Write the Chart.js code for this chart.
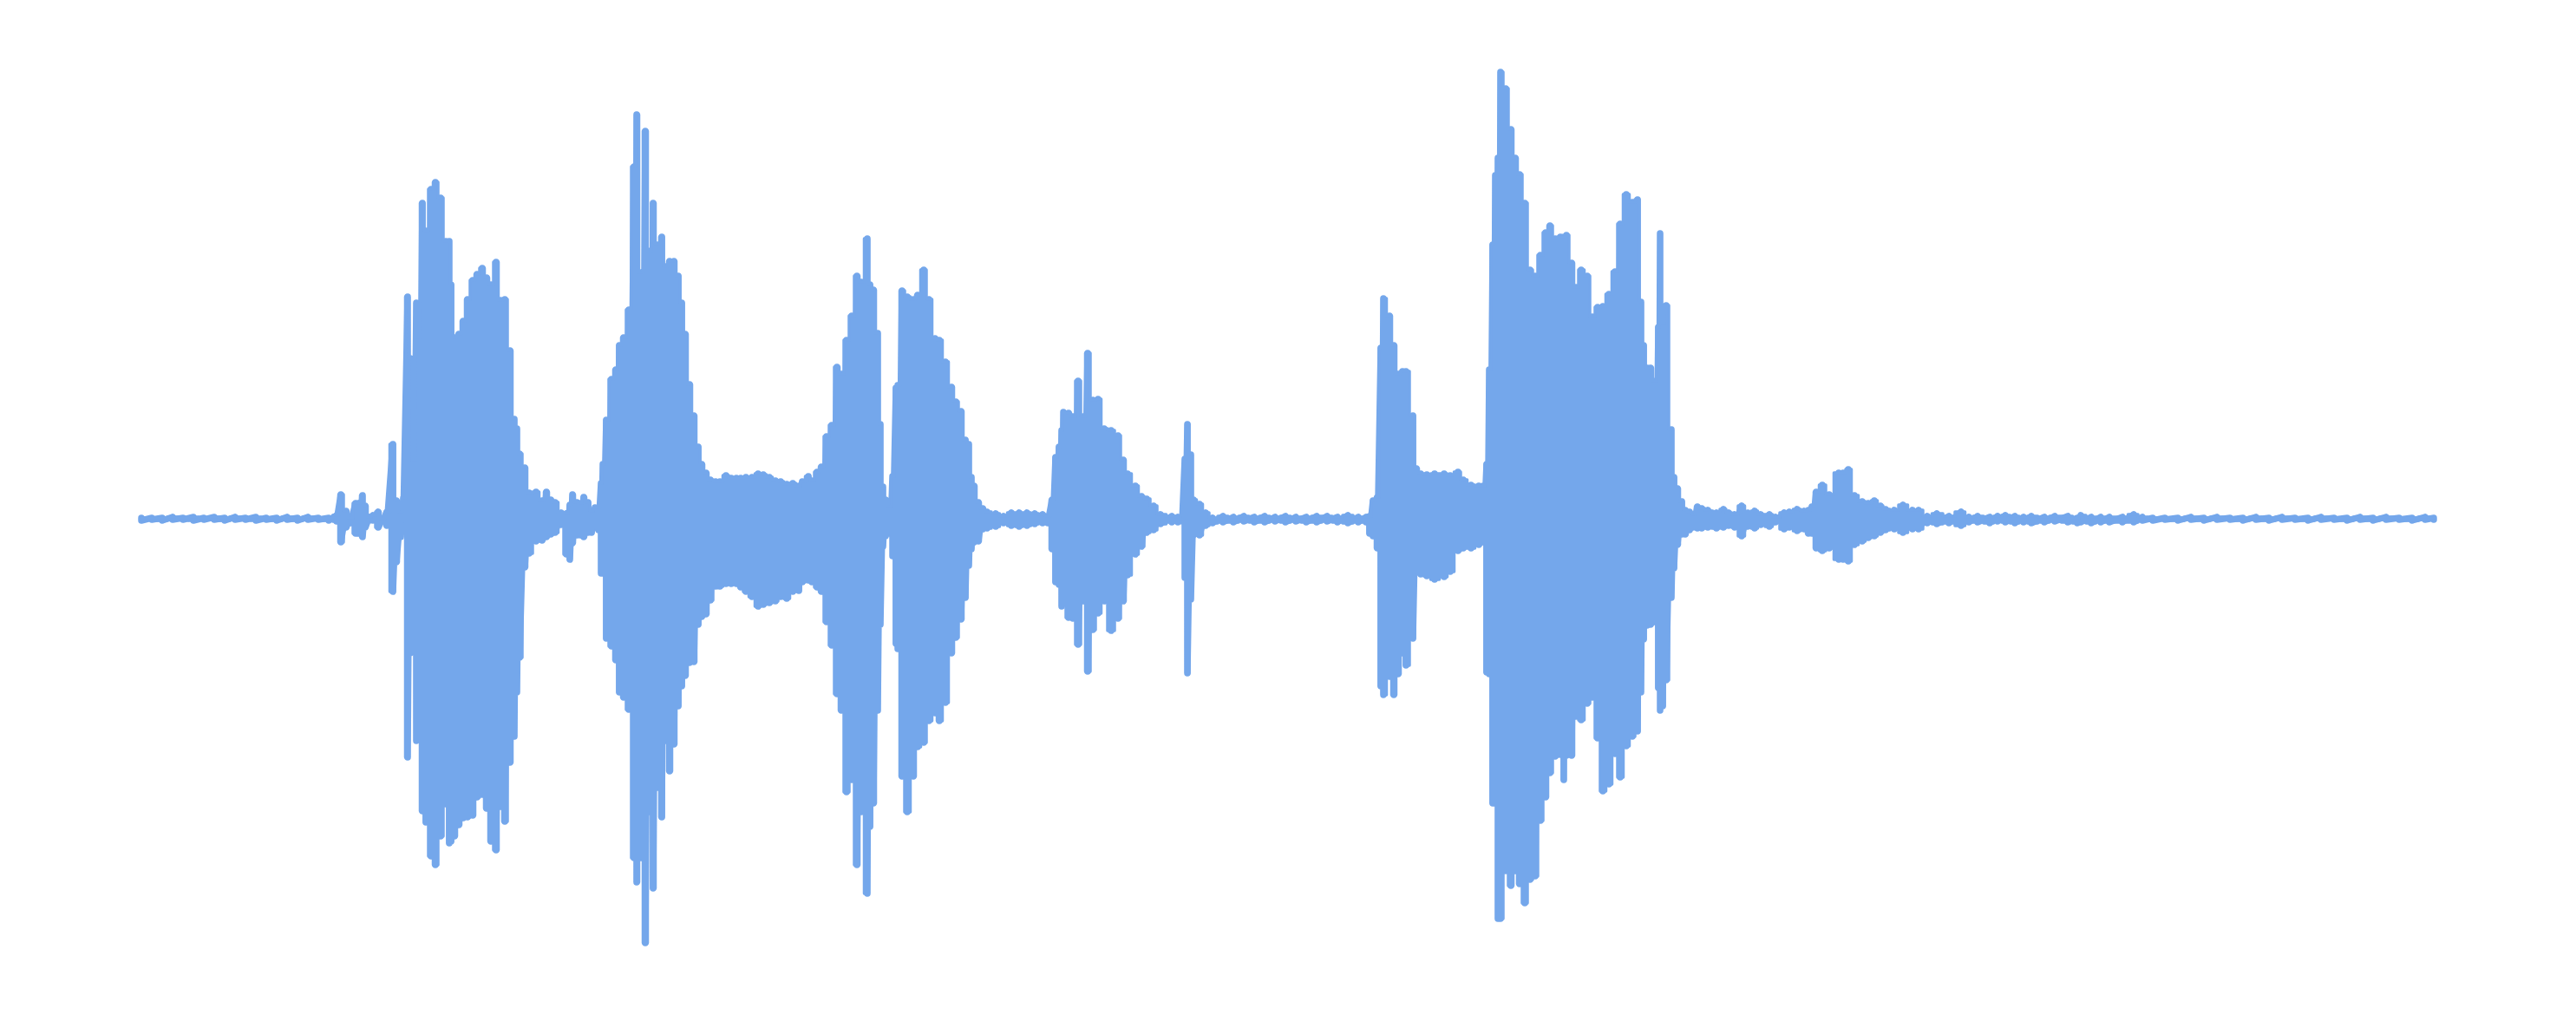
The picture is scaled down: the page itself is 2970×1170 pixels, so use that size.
<!DOCTYPE html>
<html><head><meta charset="utf-8">
<style>html,body{margin:0;padding:0;background:#fff}canvas{display:block}</style>
<script src="https://cdn.jsdelivr.net/npm/chart.js@4"></script>
</head><body><canvas id="c" width="2970" height="1170"></canvas>
<script>
// Waveform envelope: time, upper peak, lower peak for each column.
const timeSilence=[0,12,24,36,48,60,72,84,96,108,120,132,144,156,168,180,192,204,216];
const upSilence  =[1,1,1,2,1,2,1,2,1,2,1,2,1,1,2,1,2,1,1];
const lowSilence =[-2,-1,-2,-1,-1,-2,-1,-1,-2,-1,-1,-2,-1,-2,-1,-2,-1,-1,-2];

const timeWordA=[225,230,236,241,247,250,255,258,263,267,273,278,283,290,294,299,302,307,310,314,317,319,324,328,334,339,345,351,355,357,361,366,371,376,382,387,393,398,403,409,414,419,425,430,433,436,442,447,455,462,467,472,477,484];
const upWordA  =[4,28,9,1,18,18,27,15,2,4,8,0,8,86,21,8,24,256,185,67,249,209,364,332,380,388,370,320,320,270,209,213,228,253,275,282,289,278,270,296,252,253,194,115,104,75,59,30,31,21,31,22,19,7];
const lowWordA =[-3,-27,-10,-5,-17,-17,-21,-10,-2,-2,-10,-3,-8,-84,-50,-21,-3,-275,-155,-61,-256,-200,-337,-350,-389,-399,-366,-329,-374,-372,-366,-353,-345,-344,-342,-321,-318,-334,-372,-382,-332,-349,-281,-251,-200,-160,-56,-40,-26,-25,-21,-18,-16,-7];

const timeWordB=[490,494,497,502,506,510,515,519,523,527,530,532,536,542,547,551,556,562,568,571,576,581,586,590,595,600,604,609,614,619,623,627,632,637,642,646,651,656,662,667,674,680,686,691,697,704,711,717,724,731,737,744,751,758,762,769,773,779,784];
const upWordB  =[6,16,28,19,18,25,19,9,13,13,41,63,114,161,172,200,209,241,406,466,284,447,309,364,316,325,291,297,297,280,249,213,155,119,83,63,53,45,43,43,50,47,47,47,48,48,52,51,48,44,43,40,41,38,43,49,44,54,60];
const lowWordB =[-41,-47,-28,-19,-19,-21,-16,-16,-10,-13,-63,-63,-138,-147,-163,-200,-206,-220,-391,-419,-391,-489,-338,-426,-310,-344,-256,-291,-260,-216,-193,-181,-166,-165,-122,-113,-110,-94,-78,-78,-75,-75,-75,-79,-84,-90,-101,-99,-97,-95,-90,-92,-84,-83,-73,-71,-73,-79,-84];

const timeWordC=[790,796,802,807,813,819,825,830,837,840,844,849,852,855,858,861,864,866,870,872,877,883,890,895,902,908,915,920,927,934,939,945,950,954,957,960,965,970,975,985,994,1003,1012,1021,1030,1039,1045];
const upWordC  =[95,108,175,167,206,234,280,273,323,270,264,214,109,37,22,14,14,49,151,154,263,256,253,258,287,253,208,206,181,152,135,124,91,86,48,38,19,12,8,6,3,7,7,7,6,5,3];
const lowWordC =[-119,-146,-202,-221,-315,-301,-399,-338,-432,-355,-328,-221,-122,-32,-20,-17,-10,-43,-144,-150,-297,-338,-297,-263,-258,-233,-224,-233,-212,-155,-137,-116,-91,-54,-35,-27,-26,-12,-11,-9,-5,-8,-9,-8,-6,-5,-5];

const timeWordD=[1050,1054,1058,1061,1063,1069,1074,1080,1086,1091,1097,1103,1110,1118,1126,1132,1137,1146,1153,1159,1167,1175,1188,1195,1200,1203,1206,1210,1213,1220,1227,1235];
const upWordD  =[22,71,83,102,123,122,118,159,118,191,137,138,104,102,96,68,52,38,26,23,15,5,3,2,0,69,109,74,22,17,7,1];
const lowWordD =[-35,-73,-76,-101,-98,-114,-115,-145,-95,-176,-128,-109,-95,-129,-115,-95,-65,-41,-32,-16,-13,-6,-4,-4,-3,-68,-178,-93,-19,-19,-8,-5];

const timePause=[1247,1259,1271,1283,1295,1307,1319,1331,1343,1355,1367,1379,1391,1403,1412];
const upPause  =[3,2,3,2,3,2,3,2,2,3,3,2,4,2,2];
const lowPause =[-4,-4,-3,-4,-4,-3,-4,-3,-4,-4,-3,-4,-5,-4,-4];

const timeWordE=[1416,1420,1425,1429,1432,1439,1444,1449,1454,1458,1466,1470,1475,1482,1491,1502,1509,1518,1524,1533,1542,1547];
const upWordE  =[3,21,25,197,254,234,200,167,170,170,119,58,52,51,52,52,50,54,45,39,38,38];
const lowWordE =[-17,-20,-34,-193,-203,-182,-203,-179,-155,-169,-138,-61,-64,-66,-70,-67,-61,-37,-34,-34,-30,-27];

const timeWordF=[1551,1554,1558,1561,1564,1567,1573,1579,1584,1589,1595,1601,1607,1613,1619,1624,1630,1636,1640,1643,1649,1654,1660,1667,1673,1679,1685,1692,1699,1705,1712,1719,1725,1729,1732,1736,1740,1745,1749,1751,1754,1758,1764,1767,1771];
const upWordF  =[63,172,316,396,416,515,496,449,416,397,364,287,280,304,330,338,323,325,325,327,295,267,287,280,233,244,245,259,285,340,374,365,368,250,200,174,174,159,221,329,225,246,103,48,35];
const lowWordF =[-177,-179,-328,-328,-461,-461,-406,-423,-406,-421,-443,-416,-412,-348,-321,-293,-274,-272,-301,-273,-273,-228,-232,-213,-206,-253,-314,-306,-271,-298,-262,-251,-245,-200,-139,-123,-122,-119,-195,-221,-216,-186,-91,-57,-30];

const timeTail=[1776,1780,1785,1789,1794,1799,1806,1811,1816,1824,1830,1837,1845,1852,1860,1867,1877,1884,1894,1900,1909,1917,1922,1926,1931,1938,1946,1957,1962,1968,1975,1984,1991,1998,2005,2011,2021,2031,2042,2049,2059];
const upTail  =[20,10,8,5,14,12,10,7,7,11,7,5,15,7,9,5,5,2,7,8,11,9,10,14,31,39,28,53,53,57,27,20,18,21,15,11,10,16,10,10,3];
const lowTail =[-18,-18,-13,-10,-11,-11,-10,-9,-11,-10,-8,-10,-20,-9,-11,-7,-9,-4,-12,-10,-14,-12,-17,-17,-34,-37,-34,-47,-47,-49,-30,-26,-22,-20,-16,-13,-12,-16,-12,-12,-5];

const timeFade=[2070,2084,2098,2107,2117,2131,2140,2149,2160,2170,2179,2194,2206,2221,2232,2236,2248,2259,2269,2284,2297,2307,2319,2333,2348,2363,2378,2393,2408,2423,2438,2453,2468,2483,2498,2513,2528,2543,2558,2573,2588,2603,2618,2633,2643];
const upFade  =[6,3,8,2,3,2,3,4,3,2,3,2,3,3,1,4,2,2,2,2,5,2,1,1,1,2,1,2,1,1,2,1,2,1,1,2,1,1,2,1,2,1,1,2,1];
const lowFade =[-6,-5,-8,-4,-4,-5,-3,-4,-5,-4,-5,-4,-3,-4,-5,-4,-5,-4,-4,-4,-4,-2,-2,-1,-2,-1,-2,-1,-1,-2,-1,-2,-1,-1,-2,-1,-1,-2,-1,-2,-1,-1,-2,-1,-1];

const sampleTimes=[].concat(timeSilence,timeWordA,timeWordB,timeWordC,timeWordD,timePause,timeWordE,timeWordF,timeTail,timeFade);
const upperPeaks =[].concat(upSilence,upWordA,upWordB,upWordC,upWordD,upPause,upWordE,upWordF,upTail,upFade);
const lowerPeaks =[].concat(lowSilence,lowWordA,lowWordB,lowWordC,lowWordD,lowPause,lowWordE,lowWordF,lowTail,lowFade);

const waveColor='#74A7EB';
const wavePoints=[];
sampleTimes.forEach((t,i)=>{
  wavePoints.push({x:t,y:upperPeaks[i]});
  wavePoints.push({x:t,y:lowerPeaks[i]});
});
const upperLine=sampleTimes.map((t,i)=>({x:t,y:upperPeaks[i]}));
const lowerLine=sampleTimes.map((t,i)=>({x:t,y:lowerPeaks[i]}));
const stroke={borderColor:waveColor,borderCapStyle:'round',borderJoinStyle:'round',pointRadius:0,tension:0};

new Chart(document.getElementById('c'),{
  type:'line',
  data:{datasets:[
    {label:'Upper peaks',data:upperLine,stepped:'middle',fill:'+1',backgroundColor:waveColor,borderWidth:3.5,...stroke},
    {label:'Lower peaks',data:lowerLine,stepped:'middle',fill:false,borderWidth:3.5,...stroke},
    {label:'Waveform',data:wavePoints,fill:false,borderWidth:7.5,...stroke}
  ]},
  options:{
    responsive:false,
    animation:false,
    parsing:false,
    normalized:true,
    layout:{padding:0},
    plugins:{legend:{display:false},title:{display:false},tooltip:{enabled:false}},
    scales:{
      x:{type:'linear',display:false,min:-163,max:2807},
      y:{type:'linear',display:false,min:-572,max:598}
    }
  }
});
</script></body></html>
